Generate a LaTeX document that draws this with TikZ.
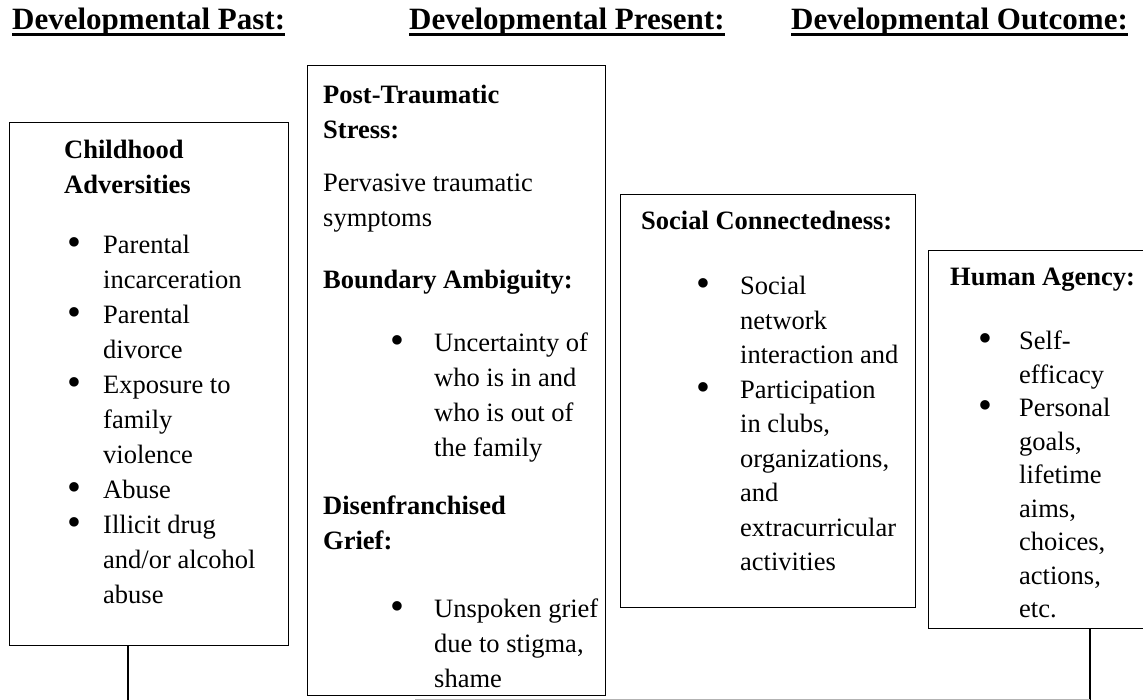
\documentclass[tikz,border=0pt]{standalone}
\usepackage{fontspec}
\setmainfont{Liberation Serif}
\usetikzlibrary{calc}
\newcommand\bodyfont{\fontsize{26.5pt}{35pt}\selectfont}
\newcommand\hdfont{\fontsize{31pt}{36pt}\selectfont\bfseries}
\newcommand\bigbul{\smash{\raisebox{-1.6pt}{\scalebox{1.5}{\textbullet}}}}
\newcommand\bl[3]{\makebox[0pt][l]{\hspace*{#1}\makebox[0pt][c]{\bigbul}}\hspace*{#2}#3}
\newcommand\ct[2]{\hspace*{#1}#2}
\begin{document}
\begin{tikzpicture}[x=1pt,y=-1pt,
  boxst/.style={draw=black,line width=1.3pt,anchor=north west,inner sep=0pt},
  txt/.style={anchor=base west,inner sep=0pt,font=\bodyfont},
  hd/.style={anchor=base west,inner sep=0pt,font=\hdfont},
  uline/.style={line width=2.7pt},
  conn/.style={line width=1.3pt}]
\useasboundingbox[fill=white] (0,0) rectangle (1143,700);

% headers
\node[hd] (h1) at (12,29.3) {Developmental Past:};
\node[hd] (h2) at (409,29.3) {Developmental Present:};
\node[hd] (h3) at (791,29.3) {Developmental Outcome:};
\foreach \h in {h1,h2,h3}
  \draw[uline] ($(\h.base west)+(0,5.4)$) -- ($(\h.base east)+(0,5.4)$);

% boxes
\node[boxst,minimum width=279pt,minimum height=523pt] (b1) at (9,122) {};
\node[boxst,minimum width=298pt,minimum height=630pt] (b2) at (307,65) {};
\node[boxst,minimum width=295pt,minimum height=413pt] (b3) at (620,194) {};
\node[boxst,minimum width=260pt,minimum height=378pt] (b4) at (928,250) {};

% box 1 text
\node[txt] (t1) at (64,159) {\parbox[t]{224pt}{\raggedright
{\bfseries Childhood}\\
{\bfseries Adversities}\\[25pt]
\bl{10pt}{39pt}{Parental}\\
\ct{39pt}{incarceration}\\
\bl{10pt}{39pt}{Parental}\\
\ct{39pt}{divorce}\\
\bl{10pt}{39pt}{Exposure to}\\
\ct{39pt}{family}\\
\ct{39pt}{violence}\\
\bl{10pt}{39pt}{Abuse}\\
\bl{10pt}{39pt}{Illicit drug}\\
\ct{39pt}{and/or alcohol}\\
\ct{39pt}{abuse}}};

% box 2 text
\node[txt] (t2) at (323,104) {\parbox[t]{280pt}{\raggedright
{\bfseries Post-Traumatic}\\
{\bfseries Stress:}\\[18pt]
Pervasive traumatic\\
symptoms\\[27pt]
{\bfseries Boundary Ambiguity:}\\[28pt]
\bl{74pt}{111pt}{Uncertainty of}\\
\ct{111pt}{who is in and}\\
\ct{111pt}{who is out of}\\
\ct{111pt}{the family}\\[23pt]
{\bfseries Disenfranchised}\\
{\bfseries Grief:}\\[33pt]
\bl{74pt}{111pt}{Unspoken grief}\\
\ct{111pt}{due to stigma,}\\
\ct{111pt}{shame}}};

% box 3 text
\node[txt] (t3) at (641,230) {\parbox[t]{272pt}{\raggedright\baselineskip=34.5pt
{\bfseries Social Connectedness:}\\[30.5pt]
\bl{62pt}{99pt}{Social}\\
\ct{99pt}{network}\\
\ct{99pt}{interaction and}\\
\bl{62pt}{99pt}{Participation}\\
\ct{99pt}{in clubs,}\\
\ct{99pt}{organizations,}\\
\ct{99pt}{and}\\
\ct{99pt}{extracurricular}\\
\ct{99pt}{activities}}};

% box 4 text
\node[txt] (t4) at (950,286) {\parbox[t]{190pt}{\raggedright\baselineskip=33.5pt
{\bfseries Human Agency:}\\[30.5pt]
\bl{35pt}{69pt}{Self-}\\
\ct{69pt}{efficacy}\\
\bl{35pt}{69pt}{Personal}\\
\ct{69pt}{goals,}\\
\ct{69pt}{lifetime}\\
\ct{69pt}{aims,}\\
\ct{69pt}{choices,}\\
\ct{69pt}{actions,}\\
\ct{69pt}{etc.}}};

% connectors
\coordinate (e1) at (128,700);
\coordinate (e4) at (1090,700);
\coordinate (g0) at (415,699.3);
\draw[conn] (e1 |- b1.south) -- (e1);
\draw[conn] (e4 |- b4.south) -- (e4);
\draw[line width=1.2pt,black!30] (g0) -- (g0 -| e4);
\end{tikzpicture}
\end{document}
